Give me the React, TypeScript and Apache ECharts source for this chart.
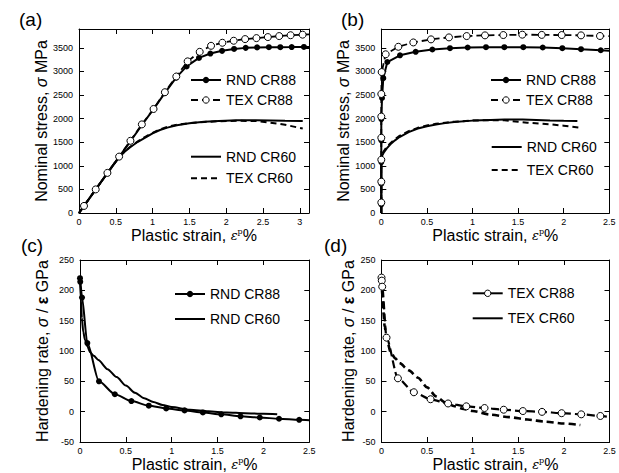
import React, { useEffect, useRef } from "react";
import * as echarts from "echarts";

const FONT = "'Liberation Sans', Arial, Helvetica, sans-serif";
const SERIF = "'DejaVu Serif', 'Liberation Serif', serif";

// ---------- Panel (a): nominal stress vs plastic strain ----------
const A_RND88_X = [0, 0.07, 0.225, 0.385, 0.545, 0.7, 0.855, 1.01, 1.165, 1.32, 1.462, 1.63, 1.785, 1.944, 2.107, 2.265, 2.42, 2.58, 2.735, 2.89, 3.056, 3.125];
const A_RND88_Y = [0, 150, 495, 845, 1190, 1525, 1865, 2195, 2540, 2870, 3107, 3287, 3380, 3437, 3478, 3500, 3510, 3515, 3515, 3517, 3520, 3520];
const A_TEX88_X = [0, 0.068, 0.227, 0.386, 0.545, 0.699, 0.854, 1.013, 1.167, 1.322, 1.476, 1.64, 1.794, 1.948, 2.102, 2.257, 2.411, 2.566, 2.72, 2.875, 3.038, 3.125];
const A_TEX88_Y = [0, 150, 500, 850, 1195, 1530, 1878, 2205, 2560, 2893, 3214, 3416, 3544, 3608, 3651, 3686, 3707, 3729, 3750, 3768, 3780, 3785];
const A_RND60_X = [0, 0.2, 0.4, 0.55, 0.62, 0.7, 0.8, 0.9, 1.0, 1.1, 1.2, 1.33, 1.5, 1.7, 1.9, 2.15, 2.4, 2.6, 2.8, 3.04];
const A_RND60_Y = [0, 440, 875, 1195, 1300, 1400, 1510, 1600, 1690, 1760, 1810, 1860, 1900, 1935, 1952, 1965, 1968, 1962, 1955, 1950];
const A_TEX60_X = [0, 0.2, 0.4, 0.55, 0.62, 0.7, 0.8, 0.9, 1.0, 1.1, 1.2, 1.33, 1.5, 1.7, 1.9, 2.15, 2.4, 2.6, 2.8, 3.04];
const A_TEX60_Y = [0, 440, 875, 1195, 1305, 1410, 1520, 1615, 1700, 1770, 1825, 1870, 1905, 1930, 1945, 1955, 1950, 1915, 1870, 1790];

// ---------- Panel (b): nominal stress vs plastic strain (zoomed) ----------
const B_RND88_X = [0, 0, 0, 0, 0, 0, 0.008, 0.022, 0.066, 0.205, 0.377, 0.56, 0.753, 0.947, 1.148, 1.349, 1.557, 1.77, 1.985, 2.19, 2.406, 2.5];
const B_RND88_Y = [0, 180, 620, 1080, 1540, 1990, 2437, 2858, 3200, 3343, 3416, 3465, 3493, 3508, 3515, 3515, 3515, 3508, 3493, 3472, 3450, 3440];
const B_TEX88_X = [0, 0, 0, 0, 0, 0, 0, 0.004, 0.048, 0.187, 0.351, 0.545, 0.742, 0.936, 1.137, 1.338, 1.546, 1.759, 1.978, 2.19, 2.398, 2.5];
const B_TEX88_Y = [0, 223, 664, 1129, 1594, 2044, 2522, 2987, 3364, 3523, 3615, 3680, 3722, 3750, 3765, 3772, 3780, 3775, 3772, 3765, 3752, 3748];
const B_RND60_X = [0, 0, 0.01, 0.03, 0.06, 0.1, 0.15, 0.2, 0.3, 0.4, 0.5, 0.6, 0.7, 0.8, 1.0, 1.2, 1.35, 1.55, 1.7, 1.85, 2.0, 2.15];
const B_RND60_Y = [0, 1150, 1220, 1290, 1370, 1455, 1540, 1610, 1715, 1790, 1840, 1878, 1905, 1930, 1958, 1973, 1980, 1980, 1972, 1962, 1955, 1950];
const B_TEX60_X = [0, 0, 0.01, 0.03, 0.06, 0.1, 0.15, 0.2, 0.3, 0.4, 0.5, 0.6, 0.7, 0.8, 1.0, 1.2, 1.35, 1.5, 1.6, 1.75, 1.85, 2.0, 2.18];
const B_TEX60_Y = [0, 1180, 1250, 1320, 1400, 1480, 1565, 1635, 1735, 1805, 1855, 1890, 1915, 1935, 1958, 1968, 1965, 1935, 1915, 1895, 1880, 1850, 1805];

// ---------- Panel (c): hardening rate, RND ----------
const C_RND88_X = [0, 0.003, 0.022, 0.08, 0.207, 0.38, 0.56, 0.75, 0.94, 1.14, 1.34, 1.54, 1.75, 1.96, 2.17, 2.39, 2.5];
const C_RND88_Y = [220, 214, 188, 113, 50, 28.7, 17.5, 9.8, 5.4, 2.1, -1.3, -4.4, -7.7, -9.6, -11.7, -13.4, -14.2];
const C_RND60_X = [0, 0.01, 0.02, 0.035, 0.055, 0.08, 0.11, 0.15, 0.2, 0.3, 0.4, 0.5, 0.6, 0.7, 0.8, 0.9, 1.0, 1.2, 1.4, 1.6, 1.8, 2.0, 2.15];
const C_RND60_Y = [215, 185, 155, 132, 118, 108, 98, 92, 85, 70, 57, 43, 31, 22, 16, 11, 7.5, 3, 0.5, -1.2, -2.5, -3.5, -4.3];

// ---------- Panel (d): hardening rate, TEX ----------
const D_TEX88_X = [0, 0.003, 0.008, 0.055, 0.18, 0.355, 0.538, 0.73, 0.93, 1.13, 1.34, 1.55, 1.76, 1.975, 2.19, 2.4, 2.5];
const D_TEX88_Y = [221, 216, 206, 122, 55, 32, 20.5, 13.5, 8.8, 6, 3.2, 1, -0.3, -2.5, -4.4, -7.1, -8.8];
const D_TEX60_X = [0, 0.01, 0.02, 0.035, 0.06, 0.1, 0.15, 0.2, 0.3, 0.4, 0.5, 0.6, 0.7, 0.8, 0.9, 1.0, 1.2, 1.4, 1.6, 1.8, 2.0, 2.18];
const D_TEX60_Y = [218, 190, 165, 140, 118, 98, 88, 80, 68, 56, 40, 25, 15, 9, 4.5, 1, -5, -9, -13, -16.5, -19.5, -22];

// axis ranges
const STRESS_RANGE = [0, 3900];
const RATE_RANGE = [-50, 250];
const A_STRAIN_RANGE = [0, 3.125];
const STRAIN_RANGE = [0, 2.5];
const PANEL_LABELS = ["(a)", "(b)", "(c)", "(d)"];
const SERIES_NAMES = ["RND CR88", "TEX CR88", "RND CR60", "TEX CR60"];

function pts(xs: number[], ys: number[], bare: number[]) {
  return xs.map((x, i) =>
    bare.includes(i) ? { value: [x, ys[i]], symbol: "none" } : [x, ys[i]]
  );
}

const X_NAME = "{t|Plastic strain, }{e|ε}{s|p}{t|%}";
const STRESS_NAME = "{t|Nominal stress, }{i|σ}{t| MPa}";
const RATE_NAME = "{t|Hardening rate, }{i|σ}{t| / }{b|ε}{t| GPa}";

const nameStyle = {
  fontSize: 16,
  fontFamily: FONT,
  color: "#000",
  rich: {
    t: { fontSize: 16, fontFamily: FONT, color: "#000" },
    i: { fontSize: 16, fontFamily: FONT, fontStyle: "italic", color: "#000" },
    b: { fontSize: 16, fontFamily: FONT, fontWeight: "bold", color: "#000" },
    e: { fontSize: 13, fontFamily: SERIF, fontStyle: "italic", color: "#000" },
    s: { fontSize: 8, fontFamily: SERIF, color: "#000", verticalAlign: "top" },
  },
};

const axisLine = { show: true, onZero: false, lineStyle: { color: "#000", width: 1 } };
const axisTick = { show: true, inside: true, length: 5, lineStyle: { color: "#000", width: 1 } };
const fmt = (v: number) => String(v);

function xAxes(gridIndex: number, range: number[], hideMax: boolean) {
  const common = {
    type: "value",
    gridIndex,
    min: range[0],
    max: range[1],
    interval: 0.5,
    splitLine: { show: false },
    axisLine,
    axisTick,
  };
  return [
    {
      ...common,
      position: "bottom",
      axisLabel: { fontSize: 9, fontFamily: FONT, color: "#000", margin: 4, showMaxLabel: !hideMax, formatter: fmt },
      name: X_NAME,
      nameLocation: "middle",
      nameGap: 14,
      nameTextStyle: nameStyle,
    },
    { ...common, position: "top", axisLabel: { show: false } },
  ];
}

function yAxes(gridIndex: number, range: number[], interval: number, hideMax: boolean, name: string, gap: number) {
  const common = {
    type: "value",
    gridIndex,
    min: range[0],
    max: range[1],
    interval,
    splitLine: { show: false },
    axisLine,
    axisTick,
  };
  return [
    {
      ...common,
      position: "left",
      axisLabel: { fontSize: 9, fontFamily: FONT, color: "#000", margin: 6, showMaxLabel: !hideMax, formatter: fmt },
      name,
      nameLocation: "middle",
      nameGap: gap,
      nameTextStyle: nameStyle,
    },
    { ...common, position: "right", axisLabel: { show: false } },
  ];
}

const rnd88Style = {
  symbol: "circle",
  symbolSize: 6,
  itemStyle: { color: "#000" },
  lineStyle: { color: "#000", width: 2 },
};
const tex88Style = {
  symbol: "circle",
  symbolSize: 7,
  itemStyle: { color: "#fff", borderColor: "#000", borderWidth: 1 },
  lineStyle: { color: "#000", width: 1.8, type: [7, 4] },
};
const rnd60Style = {
  symbol: "none",
  itemStyle: { color: "#000" },
  lineStyle: { color: "#000", width: 2 },
};
const tex60Style = {
  symbol: "none",
  itemStyle: { color: "#000" },
  lineStyle: { color: "#000", width: 2, type: [6, 4] },
};

function line(name: string, style: any, xi: number, yi: number, data: any[], extra: any = {}) {
  return {
    type: "line",
    name,
    xAxisIndex: xi,
    yAxisIndex: yi,
    data,
    animation: false,
    silent: true,
    ...style,
    ...extra,
    lineStyle: { ...style.lineStyle, ...(extra.lineStyle || {}) },
  };
}

const legendText = { fontSize: 14, fontFamily: FONT, color: "#000" };
function legend(left: number, top: number, gap: number, data: any[]) {
  return {
    left,
    top,
    orient: "vertical",
    itemWidth: 30,
    itemHeight: 8,
    itemGap: gap,
    padding: 0,
    selectedMode: false,
    textStyle: legendText,
    data,
  };
}
const hideSym = { itemStyle: { opacity: 0 } };

export default function App() {
  const ref = useRef<HTMLDivElement>(null);
  useEffect(() => {
    if (!ref.current) return;
    const chart = echarts.init(ref.current, undefined, { renderer: "svg" });
    const [RND88, TEX88, RND60, TEX60] = SERIES_NAMES;
    const option: any = {
      animation: false,
      backgroundColor: "#fff",
      grid: [
        { left: 79, top: 29, width: 230, height: 184 },
        { left: 381.3, top: 29, width: 228, height: 184 },
        { left: 80, top: 260, width: 229.3, height: 183.5 },
        { left: 381.5, top: 260, width: 228, height: 183.5 },
      ],
      xAxis: [
        ...xAxes(0, A_STRAIN_RANGE, true),
        ...xAxes(1, STRAIN_RANGE, false),
        ...xAxes(2, STRAIN_RANGE, false),
        ...xAxes(3, STRAIN_RANGE, false),
      ],
      yAxis: [
        ...yAxes(0, STRESS_RANGE, 500, true, STRESS_NAME, 30),
        ...yAxes(1, STRESS_RANGE, 500, true, STRESS_NAME, 23),
        ...yAxes(2, RATE_RANGE, 50, false, RATE_NAME, 30),
        ...yAxes(3, RATE_RANGE, 50, false, RATE_NAME, 23),
      ],
      legend: [
        legend(190, 73, 6, [RND88, { name: TEX88, itemStyle: { borderWidth: 1 } }]),
        legend(190, 149.7, 7.6, [{ name: RND60, ...hideSym }, { name: TEX60, ...hideSym }]),
        legend(490, 73, 6, [RND88, { name: TEX88, itemStyle: { borderWidth: 1 } }]),
        legend(490.7, 140, 9, [{ name: RND60, ...hideSym }, { name: TEX60, ...hideSym }]),
        legend(174, 287, 11, [RND88, { name: RND60, ...hideSym }]),
        legend(471.7, 286.3, 11, [
          { name: TEX88, itemStyle: { borderWidth: 1 }, lineStyle: { type: "solid" } },
          { name: TEX60, itemStyle: { opacity: 0 }, lineStyle: { type: "solid" } },
        ]),
      ],
      graphic: PANEL_LABELS.map((t, i) => ({
        type: "text",
        left: [19, 341, 21, 324][i],
        top: [10, 10, 236, 236][i],
        silent: true,
        style: { text: t, fontSize: 19, fontFamily: FONT, fill: "#000" },
      })),
      series: [
        // (a)
        line(RND60, rnd60Style, 0, 0, pts(A_RND60_X, A_RND60_Y, [])),
        line(TEX60, tex60Style, 0, 0, pts(A_TEX60_X, A_TEX60_Y, [])),
        line(RND88, rnd88Style, 0, 0, pts(A_RND88_X, A_RND88_Y, [0, A_RND88_X.length - 1])),
        line(TEX88, tex88Style, 0, 0, pts(A_TEX88_X, A_TEX88_Y, [0, A_TEX88_X.length - 1])),
        // (b)
        line(RND60, rnd60Style, 2, 2, pts(B_RND60_X, B_RND60_Y, [])),
        line(TEX60, tex60Style, 2, 2, pts(B_TEX60_X, B_TEX60_Y, [])),
        line(RND88, rnd88Style, 2, 2, pts(B_RND88_X, B_RND88_Y, [0, B_RND88_X.length - 1])),
        line(TEX88, tex88Style, 2, 2, pts(B_TEX88_X, B_TEX88_Y, [0, B_TEX88_X.length - 1])),
        // (c)
        line(RND60, rnd60Style, 4, 4, pts(C_RND60_X, C_RND60_Y, []), { smooth: 0.25, smoothMonotone: "x" }),
        line(RND88, rnd88Style, 4, 4, pts(C_RND88_X, C_RND88_Y, [C_RND88_X.length - 1]), { smooth: 0.25, smoothMonotone: "x" }),
        // (d)
        line(TEX60, tex60Style, 6, 6, pts(D_TEX60_X, D_TEX60_Y, []), { smooth: 0.25, smoothMonotone: "x", lineStyle: { width: 2.6, type: [7, 4] } }),
        line(TEX88, tex88Style, 6, 6, pts(D_TEX88_X, D_TEX88_Y, [D_TEX88_X.length - 1]), { smooth: 0.25, smoothMonotone: "x", lineStyle: { width: 2.2, type: [8, 4] } }),
      ],
    };
    chart.setOption(option);
    return () => chart.dispose();
  }, []);
  return (
    <div
      ref={ref}
      style={{ position: "fixed", left: 0, top: 0, width: 619, height: 473, background: "#fff" }}
    />
  );
}
